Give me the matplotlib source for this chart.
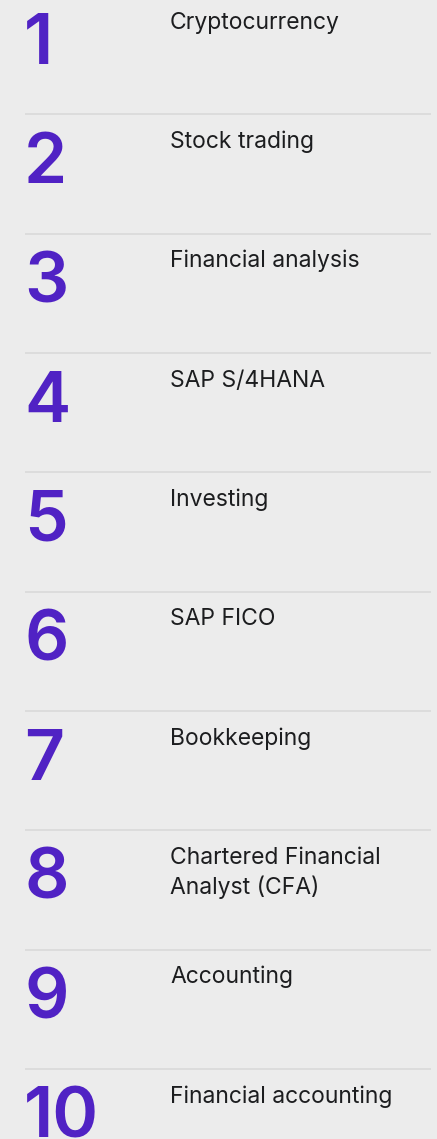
import matplotlib.pyplot as plt

# Top 10 topics, ranked
ranks = [1, 2, 3, 4, 5, 6, 7, 8, 9, 10]
topics = [
    "Cryptocurrency",
    "Stock trading",
    "Financial analysis",
    "SAP S/4HANA",
    "Investing",
    "SAP FICO",
    "Bookkeeping",
    "Chartered Financial\nAnalyst (CFA)",
    "Accounting",
    "Financial accounting",
]

BG = "#ececec"
PURPLE = "#5022c4"
RULE = "#d9d9d9"

W, H = 437, 1139
ROW = 119.35  # row pitch in pixels

fig = plt.figure(figsize=(W / 100, H / 100), dpi=100, facecolor=BG)
ax = fig.add_axes([0, 0, 1, 1])
ax.set_xlim(0, W)
ax.set_ylim(H, 0)
ax.set_facecolor(BG)
ax.axis("off")

for i, (rank, topic) in enumerate(zip(ranks, topics)):
    y0 = i * ROW
    ax.text(24, y0 + 63.5, str(rank), fontsize=50, fontweight="semibold",
            color=PURPLE, family=["Inter", "DejaVu Sans"],
            ha="left", va="baseline")
    lines = topic.split("\n")
    for j, line in enumerate(lines):
        ax.text(170, y0 + 28.5 + j * 30, line, fontsize=16.5,
                color="#1c1d1f", family=["Inter", "DejaVu Sans"],
                ha="left", va="baseline")
    if i < len(ranks) - 1:
        ax.hlines(y0 + 114.3, 25, 431, color=RULE, lw=1.2)

fig.savefig("out.png", dpi=100, facecolor=BG)
